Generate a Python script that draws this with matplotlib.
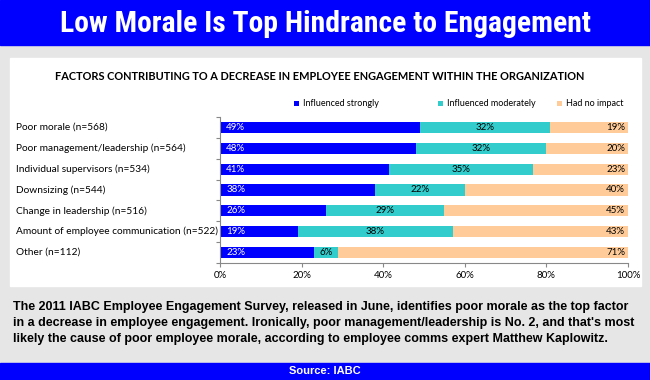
import matplotlib.pyplot as plt
from matplotlib.patches import Rectangle
from matplotlib.ticker import MultipleLocator, PercentFormatter

categories = [
    "Poor morale (n=568)",
    "Poor management/leadership (n=564)",
    "Individual supervisors (n=534)",
    "Downsizing (n=544)",
    "Change in leadership (n=516)",
    "Amount of employee communication (n=522)",
    "Other (n=112)",
]
strongly = [49, 48, 41, 38, 26, 19, 23]
moderately = [32, 32, 35, 22, 29, 38, 6]
no_impact = [19, 20, 23, 40, 45, 43, 71]
series_names = ["Influenced strongly", "Influenced moderately", "Had no impact"]

title = "Low Morale Is Top Hindrance to Engagement"
subtitle = "FACTORS CONTRIBUTING TO A DECREASE IN EMPLOYEE ENGAGEMENT WITHIN THE ORGANIZATION"
caption = ("The 2011 IABC Employee Engagement Survey, released in June, identifies poor morale as the top factor\n"
           "in a decrease in employee engagement. Ironically, poor management/leadership is No. 2, and that's most\n"
           "likely the cause of poor employee morale, according to employee comms expert Matthew Kaplowitz.")
source = "Source: IABC"

W, H = 650, 380
BLUE = "#0000ff"
TEAL = "#33cccc"
PEACH = "#ffcc99"


def fx(px):
    return px / W


def fy(py):
    return 1 - py / H


fig = plt.figure(figsize=(6.5, 3.8), dpi=100)
fig.patch.set_facecolor("#e6e6e6")

# title band, white panel, source band
fig.add_artist(Rectangle((0, fy(45)), 1, 45 / H, transform=fig.transFigure, color=BLUE, zorder=0))
fig.add_artist(Rectangle((fx(10), fy(286)), fx(631), 228 / H, transform=fig.transFigure,
                         color="white", zorder=0))
fig.add_artist(Rectangle((0, 0), 1, 17 / H, transform=fig.transFigure, color=BLUE, zorder=0))

t = fig.text(0.5, fy(24), title, color="white", fontsize=22, fontweight="bold",
             family=["Liberation Sans Narrow", "Roboto Condensed", "Liberation Sans"],
             fontstretch="condensed", ha="center", va="center")
# fit the title to the width it has in the reference
r = fig.canvas.get_renderer()
tw = t.get_window_extent(r).width
t.set_fontsize(min(26, 22 * 530 / tw))

fig.text(fx(320), fy(76), subtitle, fontsize=7.9, fontweight="bold", family="Lato",
         ha="center", va="center")
fig.text(fx(13), fy(323), caption, fontsize=9.0, fontweight="bold",
         family="Liberation Sans", ha="left", va="center", linespacing=1.42)
fig.text(0.5, fy(371.5), source, color="white", fontsize=8, fontweight="bold",
         family="Liberation Sans", ha="center", va="center")

ax = fig.add_axes([fx(220), fy(263), fx(408), 146 / H])
ax.set_facecolor("none")

y = list(range(len(categories)))
totals = [a + b + c for a, b, c in zip(strongly, moderately, no_impact)]
s1 = [a / t_ * 100 for a, t_ in zip(strongly, totals)]
s2 = [b / t_ * 100 for b, t_ in zip(moderately, totals)]
s3 = [c / t_ * 100 for c, t_ in zip(no_impact, totals)]
left2 = s1
left3 = [a + b for a, b in zip(s1, s2)]

bh = 0.53
b1 = ax.barh(y, s1, height=bh, color=BLUE, label=series_names[0])
b2 = ax.barh(y, s2, left=left2, height=bh, color=TEAL, label=series_names[1])
b3 = ax.barh(y, s3, left=left3, height=bh, color=PEACH, label=series_names[2])

lab_kw = dict(fontsize=7, family="Lato", va="center")
for i in y:
    ax.text(1.5, i, f"{strongly[i]}%", color="white", ha="left", **lab_kw)
    ax.text(left2[i] + s2[i] / 2, i, f"{moderately[i]}%", color="black", ha="center", **lab_kw)
    ax.text(99.3, i, f"{no_impact[i]}%", color="black", ha="right", **lab_kw)

ax.set_xlim(0, 100)
ax.set_ylim(len(categories) - 0.5, -0.5)
ax.xaxis.set_major_locator(MultipleLocator(20))
ax.xaxis.set_major_formatter(PercentFormatter(decimals=0))
ax.set_yticks(y)
ax.set_yticklabels([])
ax.set_yticks([i - 0.5 for i in range(len(categories) + 1)], minor=True)
ax.tick_params(axis="y", which="major", length=0)
ax.tick_params(axis="y", which="minor", length=3, color="#888888", width=0.8)
ax.tick_params(axis="x", length=3, color="#888888", width=0.8, labelsize=7, pad=3)
for lbl in ax.get_xticklabels():
    lbl.set_family("Lato")
for sp in ["top", "right"]:
    ax.spines[sp].set_visible(False)
for sp in ["left", "bottom"]:
    ax.spines[sp].set_color("#888888")
    ax.spines[sp].set_linewidth(0.8)

# category labels at the left edge of the panel
for i, name in enumerate(categories):
    ax.annotate(name, xy=(0, i), xycoords="data", xytext=(fx(16), i),
                textcoords=("figure fraction", "data"), fontsize=7.3, family="Lato",
                ha="left", va="center", annotation_clip=False)

# legend entries placed one by one, as spaced in the reference
legend_x = [294, 438, 557]
for handle, name, lx in zip([b1, b2, b3], series_names, legend_x):
    fig.legend(handles=[handle], labels=[name], loc="center left",
               bbox_to_anchor=(fx(lx), fy(104)), bbox_transform=fig.transFigure,
               frameon=False, prop={"family": "Lato", "size": 6.5},
               handlelength=0.55, handleheight=0.55, handletextpad=0.4, borderpad=0,
               borderaxespad=0)

fig.savefig("out.png", dpi=100, facecolor=fig.get_facecolor())
